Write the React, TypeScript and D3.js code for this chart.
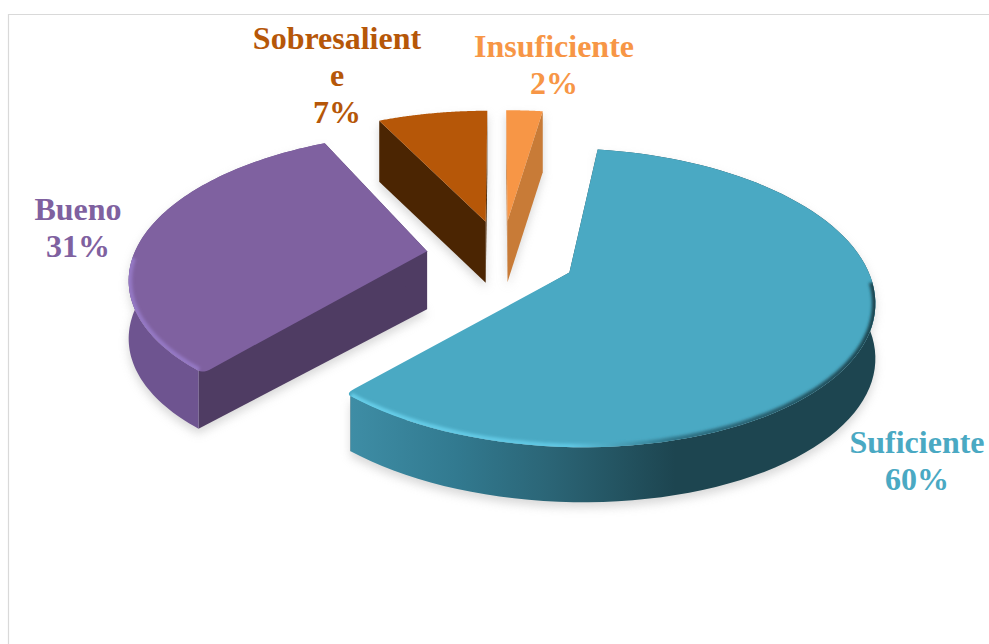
import React from "react";
import * as d3 from "d3";

const categories = ["Suficiente", "Bueno", "Sobresaliente", "Insuficiente"];
const values = [59.6, 31.2, 6.8, 2.4];
const labelLines = [["Suficiente"], ["Bueno"], ["Sobresalient", "e"], ["Insuficiente"]];
const topColors = ["#4AA9C3", "#7F61A0", "#B65708", "#F79646"];
const radialWallColors = ["#1D4550", "#4F3C63", "#4B2502", "#C87B37"];
const outerWallColors = ["url(#wallSuf)", "#6E5490", "#4B2502", "#C87B37"];
const labelAnchors: [number, number][] = [[917, 453], [78, 220], [337, 49], [554, 57]];

const W = 989, H = 644;
const CX = 502, CY = 257, RX = 294, RY = 140, K = 0.166;
const explode = [0.25, 0.26, 0.27, 0.27];
const depths = [55, 58, 61, 61];
const roundStart = [false, true, false, false];
const roundEnd = [true, false, false, false];
const deg = Math.PI / 180;
const startTurn = [0, -3.5 * deg, -1.5 * deg, 0];
const endTurn = [0, -1.5 * deg, 0, 0];
const START = 8.5 * deg;
const TRIM = 1.2 * deg;
const CORNER_PX = 10;
const FRONT_FROM = 92 * deg, FRONT_TO = 268 * deg;

type P = [number, number];
const project = (u: number, v: number): P => {
  const w = 1 - K * v;
  return [CX + (u * RX) / w, CY + (v * RY) / w];
};
const towards = (a: P, b: P, backPx: number): P => {
  const len = Math.hypot(b[0] - a[0], b[1] - a[1]);
  const t = 1 - backPx / len;
  return [a[0] + (b[0] - a[0]) * t, a[1] + (b[1] - a[1]) * t];
};

const arcs = d3.pie<number>().sort(null).startAngle(START).endAngle(START + 2 * Math.PI)(values);
const pathGen = d3.line<P>();

const slices = arcs.map((a, i) => {
  const mid = (a.startAngle + a.endAngle) / 2;
  const ou = explode[i] * Math.sin(mid);
  const ov = -explode[i] * Math.cos(mid);
  const apex = project(ou, ov);
  const a0 = a.startAngle + startTurn[i];
  const a1 = a.endAngle + endTurn[i];
  const from = a0 + (roundStart[i] ? TRIM : 0);
  const to = a1 - (roundEnd[i] ? TRIM : 0);
  const angles = d3.range(0, 1.0001, 1 / 90).map((t) => from + t * (to - from));
  const pt = (an: number) => project(ou + Math.sin(an), ov - Math.cos(an));
  const rim = angles.map(pt);
  const first = rim[0];
  const last = rim[rim.length - 1];
  const d = depths[i];
  const down = (p: P): P => [p[0], p[1] + d];
  const cs = pt(a0);
  const ce = pt(a1);
  const es = towards(apex, cs, CORNER_PX);
  const ee = towards(apex, ce, CORNER_PX);
  let top = `M${apex}`;
  top += roundStart[i] ? `L${es}Q${cs} ${first}` : `L${first}`;
  top += rim.map((p) => `L${p}`).join("");
  top += roundEnd[i] ? `Q${ce} ${ee}Z` : "Z";
  const outer = pathGen([...rim, ...rim.slice().reverse().map(down)])! + "Z";
  const wallA = pathGen([apex, first, down(first), down(apex)])! + "Z";
  const wallB = pathGen([apex, last, down(last), down(apex)])! + "Z";
  const base = pathGen([down(apex), ...rim.map(down)])! + "Z";
  const rimPath = pathGen(angles.filter((an) => an >= FRONT_FROM && an <= FRONT_TO).map(pt)) || "";
  return { top, outer, wallA, wallB, base, rimPath, i };
});

const pct = d3.format(".0%");
const total = d3.sum(values);

export default function App() {
  return (
    <svg width={W} height={H} style={{ position: "absolute", left: 0, top: 0 }}>
      <defs>
        <filter id="shadow" x="-20%" y="-20%" width="140%" height="140%">
          <feGaussianBlur stdDeviation="5" />
        </filter>
        <filter id="bevel" x="-10%" y="-10%" width="120%" height="120%">
          <feGaussianBlur stdDeviation="1.6" />
        </filter>
        <linearGradient id="wallSuf" gradientUnits="userSpaceOnUse" x1="350" x2="875" y1="0" y2="0">
          <stop offset="0" stopColor="#3E8DA5" />
          <stop offset="0.2" stopColor="#327A90" />
          <stop offset="0.38" stopColor="#2B6576" />
          <stop offset="0.62" stopColor="#1D4550" />
          <stop offset="1" stopColor="#1D4550" />
        </linearGradient>
        <linearGradient id="bevelSuf" gradientUnits="userSpaceOnUse" x1="350" x2="875" y1="0" y2="0">
          <stop offset="0" stopColor="#66CDE8" />
          <stop offset="0.42" stopColor="#5FC6E2" />
          <stop offset="0.62" stopColor="#2F7488" />
          <stop offset="1" stopColor="#1D4550" />
        </linearGradient>
        {slices.map((s) => (
          <clipPath id={`clip${s.i}`} key={s.i}>
            <path d={s.top} />
          </clipPath>
        ))}
      </defs>
      <rect width={W} height={H} fill="#ffffff" />
      <path d={`M8.5 ${H}V14.5H${W}`} fill="none" stroke="#D9D9D9" strokeWidth={1.2} />
      <g filter="url(#shadow)" opacity={0.55} transform="translate(0,5)">
        {slices.map((s) => (
          <g key={s.i} fill="#B8B8B8">
            <path d={s.base} />
            <path d={s.outer} />
          </g>
        ))}
      </g>
      {slices.map((s) => (
        <g key={s.i}>
          <path d={s.wallA} fill={radialWallColors[s.i]} />
          <path d={s.wallB} fill={radialWallColors[s.i]} />
          {s.i < 2 && <path d={s.outer} fill={outerWallColors[s.i]} />}
          <path d={s.top} fill={topColors[s.i]} />
          {s.i < 2 && (
            <g clipPath={`url(#clip${s.i})`}>
              <path
                d={s.rimPath}
                fill="none"
                stroke={s.i === 0 ? "url(#bevelSuf)" : "#9478C4"}
                strokeWidth={7}
                filter="url(#bevel)"
              />
            </g>
          )}
        </g>
      ))}
      {categories.map((c, i) => {
        const [x, y] = labelAnchors[i];
        const lines = [...labelLines[i], pct(values[i] / total)];
        return (
          <text
            key={c}
            x={x}
            y={y}
            textAnchor="middle"
            fontFamily="'Liberation Serif', serif"
            fontWeight="bold"
            fontSize={32}
            fill={topColors[i]}
          >
            {lines.map((l, j) => (
              <tspan key={j} x={x} dy={j === 0 ? 0 : 37}>
                {l}
              </tspan>
            ))}
          </text>
        );
      })}
    </svg>
  );
}
